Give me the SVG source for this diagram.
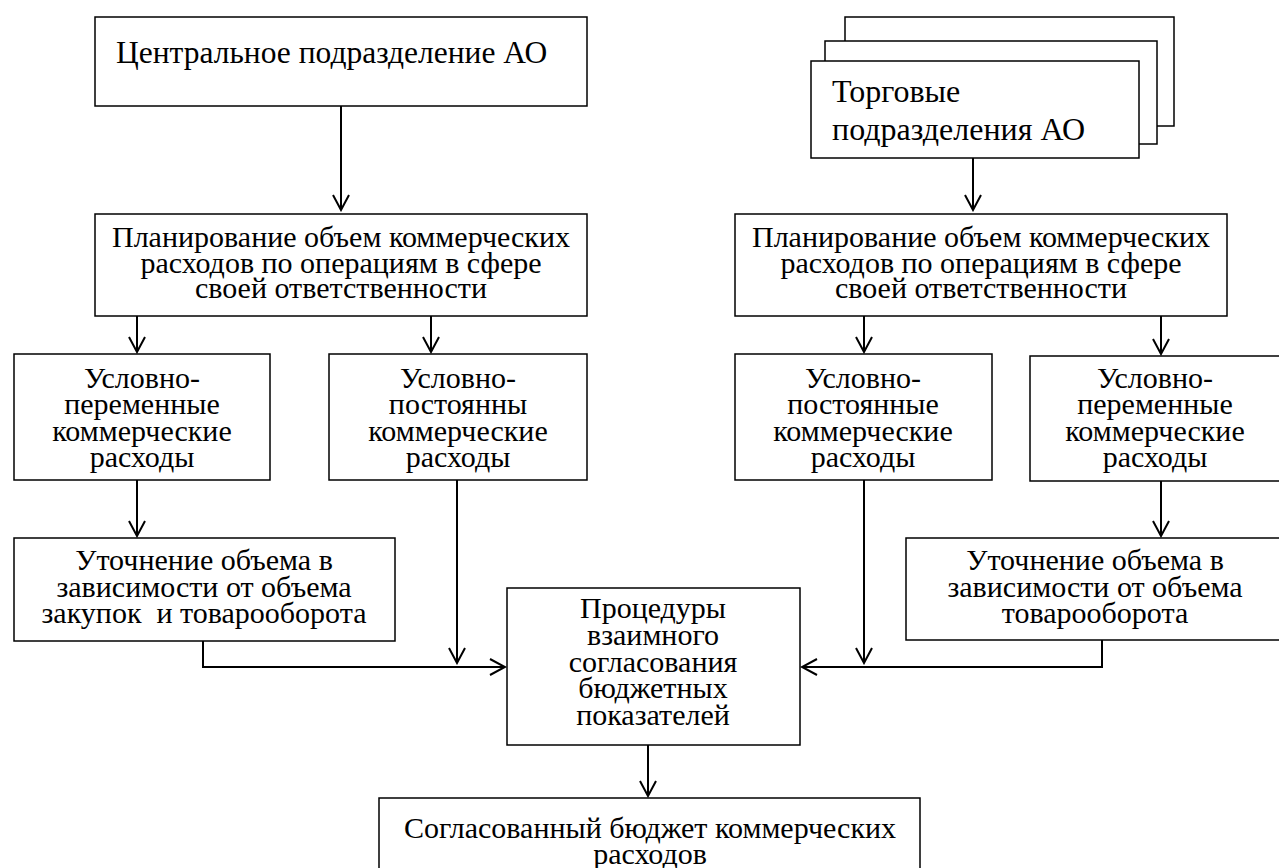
<svg xmlns="http://www.w3.org/2000/svg" width="1279" height="868" viewBox="0 0 1279 868">
<style>
.box{fill:#fff;stroke:#000;stroke-width:1.5}
text{font-family:'Liberation Serif','Times New Roman',serif;font-size:30px;fill:#000}
.big{font-size:31.5px}
.c{text-anchor:middle}
.conn{fill:none;stroke:#000;stroke-width:2}
</style>
<defs>
<marker id="arr" viewBox="-17 -10 19 20" refX="0" refY="0" markerWidth="19" markerHeight="20" markerUnits="userSpaceOnUse" orient="auto">
<path d="M-15,-8 L0,0 L-15,8" fill="none" stroke="#000" stroke-width="2"/>
</marker>
</defs>
<rect width="1279" height="868" fill="#fff"/>
<g id="central">
<rect class="box" x="95" y="17" width="492" height="89"/>
<text class="big" x="116" y="63">Центральное подразделение АО</text>
</g>
<g id="trade">
<rect class="box" x="845" y="17" width="329" height="109"/>
<rect class="box" x="825" y="41" width="332" height="103"/>
<rect class="box" x="811" y="61" width="328" height="97"/>
<text class="big" x="832" y="102" style="font-size:32px">Торговые</text>
<text class="big" x="832" y="140" style="font-size:32px">подразделения АО</text>
</g>
<g id="plan-left">
<rect class="box" x="95" y="214" width="492" height="102"/>
<text class="c" x="341" y="247">Планирование объем коммерческих</text>
<text class="c" x="341" y="273">расходов по операциям в сфере</text>
<text class="c" x="341" y="298">своей ответственности</text>
</g>
<g id="plan-right">
<rect class="box" x="735" y="214" width="492" height="102"/>
<text class="c" x="981" y="247">Планирование объем коммерческих</text>
<text class="c" x="981" y="273">расходов по операциям в сфере</text>
<text class="c" x="981" y="298">своей ответственности</text>
</g>
<g id="var-left">
<rect class="box" x="14" y="354" width="256" height="126"/>
<text class="c" x="142" y="388">Условно-</text>
<text class="c" x="142" y="414">переменные</text>
<text class="c" x="142" y="441">коммерческие</text>
<text class="c" x="142" y="467">расходы</text>
</g>
<g id="const-left">
<rect class="box" x="329" y="354" width="258" height="126"/>
<text class="c" x="458" y="388">Условно-</text>
<text class="c" x="458" y="414">постоянны</text>
<text class="c" x="458" y="441">коммерческие</text>
<text class="c" x="458" y="467">расходы</text>
</g>
<g id="const-right">
<rect class="box" x="735" y="354" width="257" height="126"/>
<text class="c" x="863" y="388">Условно-</text>
<text class="c" x="863" y="414">постоянные</text>
<text class="c" x="863" y="441">коммерческие</text>
<text class="c" x="863" y="467">расходы</text>
</g>
<g id="var-right">
<rect class="box" x="1030" y="356" width="252" height="125"/>
<text class="c" x="1155" y="388">Условно-</text>
<text class="c" x="1155" y="414">переменные</text>
<text class="c" x="1155" y="441">коммерческие</text>
<text class="c" x="1155" y="467">расходы</text>
</g>
<g id="refine-left">
<rect class="box" x="14" y="538" width="381" height="103"/>
<text class="c" x="204" y="570">Уточнение объема в</text>
<text class="c" x="204" y="597">зависимости от объема</text>
<text class="c" x="204" y="623" xml:space="preserve">закупок  и товарооборота</text>
</g>
<g id="refine-right">
<rect class="box" x="906" y="538" width="378" height="102"/>
<text class="c" x="1095" y="570">Уточнение объема в</text>
<text class="c" x="1095" y="597">зависимости от объема</text>
<text class="c" x="1095" y="623">товарооборота</text>
</g>
<g id="procedures">
<rect class="box" x="507" y="588" width="293" height="157"/>
<text class="c" x="653" y="618">Процедуры</text>
<text class="c" x="653" y="645">взаимного</text>
<text class="c" x="653" y="672">согласования</text>
<text class="c" x="653" y="698">бюджетных</text>
<text class="c" x="653" y="725">показателей</text>
</g>
<g id="budget">
<rect class="box" x="379" y="798" width="541" height="90"/>
<text class="c" x="650" y="838">Согласованный бюджет коммерческих</text>
<text class="c" x="650" y="864">расходов</text>
</g>
<g id="connectors">
<path class="conn" d="M341,106 V210" marker-end="url(#arr)"/>
<path class="conn" d="M973,158 V210" marker-end="url(#arr)"/>
<path class="conn" d="M137,316 V352" marker-end="url(#arr)"/>
<path class="conn" d="M431,316 V352" marker-end="url(#arr)"/>
<path class="conn" d="M864,316 V352" marker-end="url(#arr)"/>
<path class="conn" d="M1161,316 V354" marker-end="url(#arr)"/>
<path class="conn" d="M137,480 V536" marker-end="url(#arr)"/>
<path class="conn" d="M1161,481 V536" marker-end="url(#arr)"/>
<path class="conn" d="M457,480 V663" marker-end="url(#arr)"/>
<path class="conn" d="M864,480 V663" marker-end="url(#arr)"/>
<path class="conn" d="M203,641 V667 H505" marker-end="url(#arr)"/>
<path class="conn" d="M1102,640 V667 H802" marker-end="url(#arr)"/>
<path class="conn" d="M648,745 V796" marker-end="url(#arr)"/>
</g>
</svg>
